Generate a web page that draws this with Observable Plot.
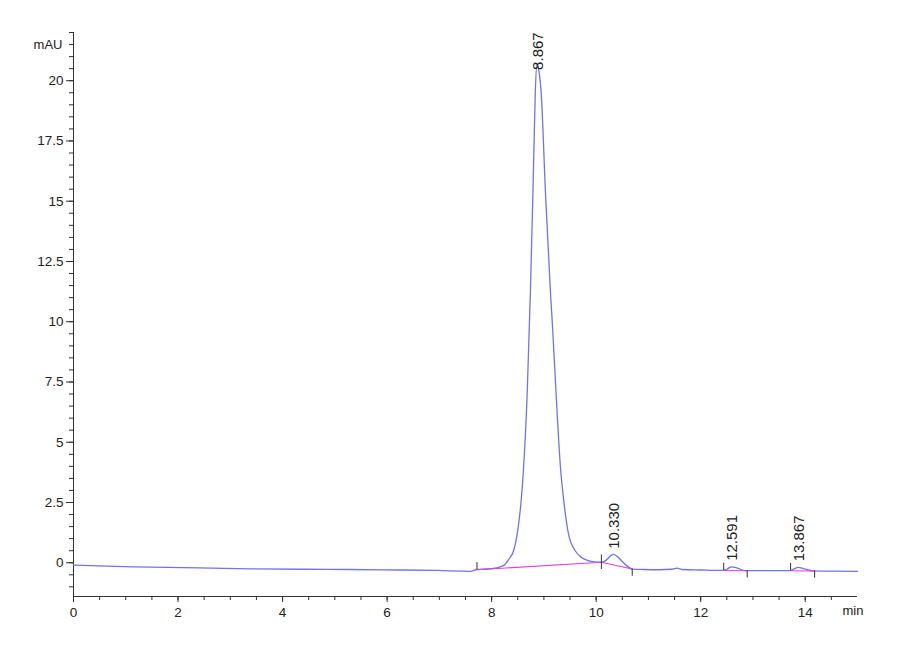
<!DOCTYPE html>
<html><head><meta charset="utf-8">
<script src="https://cdn.jsdelivr.net/npm/d3@7"></script>
<script src="https://cdn.jsdelivr.net/npm/@observablehq/plot@0.6"></script>
<style>body{margin:0;background:#fff}</style>
</head><body><div id="chart"></div>
<script>
// chromatogram trace (min, mAU)
const time = [0, 1.15, 2.4, 3.4, 4.4, 5.3, 6.25, 7.0, 7.5, 7.6, 7.72, 7.9, 8.0, 8.15, 8.25, 8.33, 8.42, 8.49, 8.565, 8.61, 8.68, 8.74, 8.79, 8.835, 8.867, 8.905, 8.948, 9.03, 9.126, 9.158, 9.24, 9.317, 9.38, 9.47, 9.6, 9.72, 9.83, 10.0, 10.1, 10.2, 10.28, 10.33, 10.4, 10.5, 10.6, 10.69, 10.9, 11.2, 11.45, 11.55, 11.65, 12.0, 12.4, 12.5, 12.59, 12.7, 12.85, 13.3, 13.7, 13.8, 13.867, 13.95, 14.15, 14.5, 15.0];
const signal = [-0.10, -0.17, -0.21, -0.25, -0.27, -0.28, -0.30, -0.32, -0.35, -0.36, -0.28, -0.26, -0.24, -0.18, -0.08, 0.15, 0.5, 1.2, 2.58, 3.9, 7.0, 11.1, 15.3, 19.5, 20.7, 20.4, 19.5, 15.34, 11.19, 10.06, 6.74, 3.95, 2.58, 1.2, 0.5, 0.22, 0.10, 0.03, 0.02, 0.12, 0.30, 0.35, 0.27, 0.05, -0.15, -0.26, -0.28, -0.29, -0.27, -0.22, -0.28, -0.30, -0.32, -0.27, -0.17, -0.22, -0.33, -0.33, -0.33, -0.24, -0.19, -0.23, -0.34, -0.35, -0.36];

// integrated peaks
const peakTimes = [8.867, 10.330, 12.591, 13.867];
const peakHeights = [20.7, 0.33, -0.17, -0.19];
const peakLabels = ["8.867", "10.330", "12.591", "13.867"];

// integration baselines
const baseStartT = [7.72, 10.10, 12.44, 13.72];
const baseStartY = [-0.29, 0.02, -0.32, -0.33];
const baseEndT = [10.10, 10.69, 12.89, 14.18];
const baseEndY = [0.02, -0.26, -0.33, -0.34];

// axes
const xTicks = [0, 2, 4, 6, 8, 10, 12, 14];
const yTicks = [0, 2.5, 5, 7.5, 10, 12.5, 15, 17.5, 20];
const xMinor = d3.range(0, 14.51, 0.5);
const yMinor = d3.range(-1, 22.01, 0.5);

const axisFont = "'Liberation Sans', Arial, sans-serif";
const axisColor = "#333";

const chart = Plot.plot({
  width: 900,
  height: 660,
  marginLeft: 73,
  marginRight: 43,
  marginTop: 32,
  marginBottom: 64,
  style: {fontFamily: "'Liberation Sans', sans-serif", background: "#fff"},
  x: {domain: [0, 15]},
  y: {domain: [-1.4, 22]},
  marks: [
    Plot.axisY(yMinor, {tickSize: 4, tickFormat: () => "", label: null, stroke: axisColor}),
    Plot.axisY(yTicks, {tickSize: 7, tickPadding: 3, tickFormat: d => String(d), label: null, stroke: axisColor, fill: "#222", fontSize: 13.5, fontFamily: axisFont}),
    Plot.axisX(xMinor, {tickSize: 4, tickFormat: () => "", label: null, stroke: axisColor}),
    Plot.axisX(xTicks, {tickSize: 6, tickPadding: 5, tickFormat: d => String(d), label: null, stroke: axisColor, fill: "#222", fontSize: 13.5, fontFamily: axisFont}),
    Plot.ruleX([0], {stroke: axisColor}),
    Plot.ruleY([-1.4], {stroke: axisColor}),
    Plot.text(["mAU"], {frameAnchor: "top-left", dx: -11, dy: 7, textAnchor: "end", fontSize: 13, fontFamily: axisFont, fill: "#222"}),
    Plot.text(["min"], {frameAnchor: "bottom-right", dx: -15, dy: 18, textAnchor: "start", fontSize: 13, fontFamily: axisFont, fill: "#222"}),
    Plot.line(time, {x: time, y: signal, stroke: "#7272ee", strokeWidth: 1.3, curve: "monotone-x"}),
    Plot.link(baseStartT, {x1: baseStartT, y1: baseStartY, x2: baseEndT, y2: baseEndY, stroke: "#e040e0", strokeWidth: 1.1}),
    Plot.ruleX(baseStartT, {x: baseStartT, y1: baseStartY, y2: baseStartY.map(v => v + 0.3), stroke: "#333"}),
    Plot.ruleX(baseEndT, {x: baseEndT, y1: baseEndY, y2: baseEndY.map(v => v - 0.3), stroke: "#333"}),
    Plot.text(peakLabels, {x: peakTimes, y: peakHeights.map(h => Math.min(h, 20.2)), text: d => d, rotate: -90, textAnchor: "start", lineAnchor: "middle", dy: -6, dx: 1, fontSize: 15, fill: "#222"})
  ]
});
document.getElementById("chart").append(chart);
</script>
</body></html>
